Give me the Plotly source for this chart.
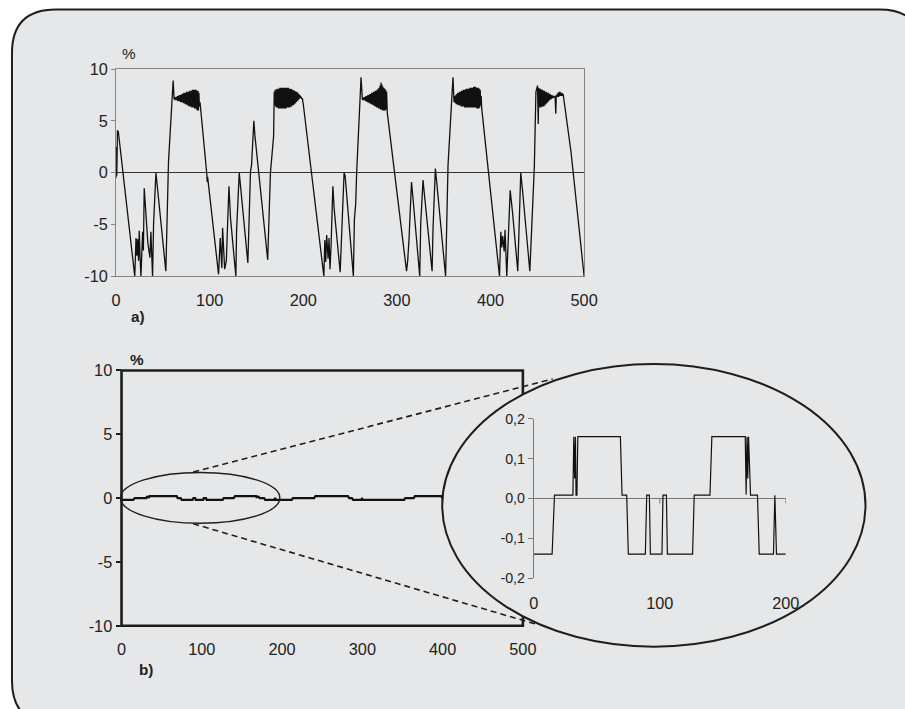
import plotly.graph_objects as go

W, H = 905, 709

# ---------------- data: chart a) relative error, % ----------------
a_points = [
    (0, -0.5), (0.3, 2.5), (0.8, -0.3), (1.5, 4.1), (2.5, 3.9), (20, -10),
    (21.3, -6.3), (22.2, -8.0), (23, -6.4), (24, -8.5), (24.8, -5.6), (25.6, -8.0),
    (26.6, -10), (28.4, -5.7), (29.2, -7.5), (30.1, -1.5), (31.5, -3.5), (32.6, -4.7),
    (34, -6.8), (36.2, -8.2), (37.2, -5.7), (39, -10), (40.1, -4.9), (42.6, 0),
    (53.2, -9.5), (56, 1), (61, 8.9),
    # plateau 1
    (62, 7.1), (62.5, 7.3), (63, 7.0), (63.5, 7.3), (64, 7.0), (64.5, 7.3), (65, 7.0),
    (65.5, 7.4), (66, 6.9), (66.5, 7.4), (67, 6.9), (67.5, 7.5), (68, 6.9), (68.5, 7.5),
    (69, 6.8), (69.5, 7.5), (70, 6.8), (70.5, 7.6), (71, 6.8), (71.5, 7.6), (72, 6.7),
    (72.5, 7.7), (73, 6.7), (73.5, 7.7), (74, 6.6), (74.5, 7.7), (75, 6.6), (75.5, 7.8),
    (76, 6.5), (76.5, 7.8), (77, 6.5), (77.5, 7.8), (78, 6.4), (78.5, 7.9), (79, 6.4),
    (79.5, 7.9), (80, 6.4), (80.5, 7.9), (81, 6.3), (81.5, 8.0), (82, 6.3), (82.5, 8.0),
    (83, 6.3), (83.5, 8.0), (84, 6.2), (84.5, 8.0), (85, 6.2), (85.5, 8.0), (86, 6.1),
    (86.5, 7.9), (87, 6.0), (87.5, 7.9), (88, 6.0), (88.5, 7.7), (89, 6.4),
    (89.7, 6.8), (97, -0.2), (97.4, -0.9), (97.8, -0.4), (109.5, -9.8), (111.3, -6.3),
    (112, -7.5), (113, -9.2), (113.8, -5.3), (115, -8), (116, -9.3), (117.8, -8.5),
    (120.6, -1.3), (122.3, -4.4), (128, -10), (128.7, -5.7), (131.6, 0), (140.8, -8.7),
    (143.6, 0.1), (144.7, 0.7), (146.5, 4.8), (147.2, 5), (148.3, 3.6), (162, -8.4),
    (164.9, 0), (167.7, 3.3), (168.3, 3.5),
    # plateau 2
    (169, 7.8), (169.5, 6.5), (170, 8.0), (170.5, 6.4), (171, 8.0), (171.5, 6.3), (172, 8.1),
    (172.5, 6.3), (173, 8.1), (173.5, 6.2), (174, 8.1), (174.5, 6.2), (175, 8.2), (175.5, 6.2),
    (176, 8.2), (176.5, 6.2), (177, 8.2), (177.5, 6.2), (178, 8.2), (178.5, 6.2), (179, 8.2),
    (179.5, 6.2), (180, 8.2), (180.5, 6.2), (181, 8.2), (181.5, 6.2), (182, 8.2), (182.5, 6.3),
    (183, 8.2), (183.5, 6.3), (184, 8.2), (184.5, 6.3), (185, 8.1), (185.5, 6.3), (186, 8.1),
    (186.5, 6.4), (187, 8.1), (187.5, 6.4), (188, 8.0), (188.5, 6.5), (189, 8.0), (189.5, 6.5),
    (190, 7.9), (190.5, 6.6), (191, 7.9), (191.5, 6.7), (192, 7.8), (192.5, 6.8), (193, 7.8),
    (193.5, 6.9), (194, 7.7), (194.5, 7.0), (195, 7.6), (195.5, 7.1), (196, 7.5), (196.5, 7.2),
    (197, 7.4), (197.5, 7.2), (198, 7.3), (198.5, 7.1), (199, 7.2),
    (200, 6.6), (222, -10), (223, -6.5), (224, -8.6), (225, -6), (226.5, -8.3),
    (227.5, -6.3), (228.5, -9.3), (229.7, -7), (231.6, -1.3), (233, -3.5), (239.4, -9.6),
    (243.6, 0), (244.7, -0.3), (253.5, -10), (254.6, -4.5), (256, -3), (257, 0),
    (261.7, 9.2),
    # plateau 3
    (263, 7.2), (263.5, 7.0), (264, 7.2), (264.5, 7.0), (265, 7.3), (265.5, 7.0), (266, 7.3),
    (266.5, 6.9), (267, 7.4), (267.5, 6.9), (268, 7.4), (268.5, 6.8), (269, 7.5), (269.5, 6.8),
    (270, 7.5), (270.5, 6.7), (271, 7.6), (271.5, 6.7), (272, 7.6), (272.5, 6.6), (273, 7.7),
    (273.5, 6.6), (274, 7.7), (274.5, 6.5), (275, 7.8), (275.5, 6.5), (276, 7.8), (276.5, 6.4),
    (277, 7.9), (277.5, 6.4), (278, 7.9), (278.5, 6.3), (279, 8.0), (279.5, 6.3), (280, 8.1),
    (280.5, 6.2), (281, 8.2), (281.5, 6.2), (282, 8.4), (282.5, 6.1), (283, 8.7), (283.5, 6.1),
    (284, 8.5), (284.5, 6.0), (285, 8.3), (285.5, 6.0), (286, 8.2), (286.5, 6.0), (287, 8.1),
    (287.5, 6.0), (288, 8.0), (288.5, 6.1), (289, 7.8),
    (289.7, 5.8), (310.3, -9.5), (311.5, -8.5), (313, -6.3), (315.6, -0.9), (317.5, -2.8),
    (324.4, -10), (325.4, -5), (327.9, -0.7), (329.5, -2.2), (337.6, -9.5), (338.6, -5.3),
    (341.1, 0.4), (342.5, -0.9), (352, -10), (354.6, 0.7), (359.9, 9.2), (361, 6.8),
    # plateau 4
    (362, 7.4), (362.5, 6.7), (363, 7.5), (363.5, 6.6), (364, 7.6), (364.5, 6.6), (365, 7.7),
    (365.5, 6.5), (366, 7.7), (366.5, 6.5), (367, 7.8), (367.5, 6.5), (368, 7.8), (368.5, 6.4),
    (369, 7.9), (369.5, 6.4), (370, 7.9), (370.5, 6.4), (371, 8.0), (371.5, 6.4), (372, 8.0),
    (372.5, 6.3), (373, 8.0), (373.5, 6.3), (374, 8.1), (374.5, 6.3), (375, 8.1), (375.5, 6.3),
    (376, 8.1), (376.5, 6.3), (377, 8.1), (377.5, 6.3), (378, 8.2), (378.5, 6.3), (379, 8.2),
    (379.5, 6.3), (380, 8.2), (380.5, 6.3), (381, 8.2), (381.5, 6.3), (382, 8.3), (382.5, 6.3),
    (383, 8.3), (383.5, 6.3), (384, 8.3), (384.5, 6.3), (385, 8.2), (385.5, 6.2), (386, 8.2),
    (386.5, 6.2), (387, 8.2), (387.5, 6.2), (388, 8.1), (388.5, 6.3), (389, 8.0), (389.5, 6.5),
    (390, 7.4),
    (390.6, 6.2), (409.6, -10), (411, -5.7), (412, -7.2), (413, -6.1), (414.6, -7.6),
    (415.5, -5.5), (417.4, -10), (421, -1.7), (423.5, -3.8), (429.1, -9.5), (430.5, -4.8),
    (432.3, 0), (434, -1.5), (442, -9.5), (446.8, 0.6), (448.5, 7.8), (450.2, 8.4),
    (451, 4.7), (451.5, 8.2),
    # plateau 5
    (452, 6.4), (452.5, 8.1), (453, 6.3), (453.5, 8.1), (454, 6.3), (454.5, 8.0), (455, 6.4),
    (455.5, 8.0), (456, 6.4), (456.5, 7.9), (457, 6.4), (457.5, 7.9), (458, 6.5), (458.5, 7.8),
    (459, 6.6), (459.5, 7.8), (460, 6.7), (460.5, 7.7), (461, 6.8), (461.5, 7.7), (462, 6.9),
    (462.5, 7.6), (463, 7.0), (463.5, 7.6), (464, 7.1), (464.5, 7.5), (465, 7.1), (465.5, 7.5),
    (466, 7.2), (466.5, 7.4), (467, 7.2), (467.5, 7.4), (468, 7.3), (468.5, 7.4), (469, 7.3),
    (469.7, 5.7), (470.3, 7.5), (470.8, 7.3), (471.3, 7.6), (471.8, 7.3), (472.3, 7.7),
    (472.8, 7.3), (473.3, 7.8), (473.8, 7.4), (474.3, 7.8), (474.8, 7.4), (475.3, 7.7),
    (475.8, 7.4), (476.3, 7.7), (476.8, 7.4), (477.3, 7.6), (477.7, 7.5),
    (486, 2), (500, -10),
]
a_time = [p[0] for p in a_points]
a_value = [p[1] for p in a_points]

# ---------------- data: chart b) relative error, % (first 200 s, shown zoomed) ----------------
b_time = [0, 14.5, 16.4, 31, 31.7, 32.4, 33, 33.5, 34.2, 34.9, 68.7, 70, 73.7, 75, 88.5,
          89.6, 91.7, 92.5, 101.7, 102.5, 105.2, 106, 126, 127.3, 139.8, 141.3, 167.8,
          168.5, 169.2, 169.8, 170.4, 171, 172, 177.5, 178.9, 190.2, 191.3, 192.6, 200]
b_value = [-0.14, -0.14, 0.008, 0.008, 0.155, 0.05, 0.155, 0.008, 0.008, 0.155, 0.155,
           0.008, 0.008, -0.14, -0.14, 0.008, 0.008, -0.14, -0.14, 0.008, 0.008, -0.14,
           -0.14, 0.008, 0.008, 0.155, 0.155, 0.01, 0.155, 0.05, 0.155, 0.1, 0.008, 0.008,
           -0.14, -0.14, 0.008, -0.14, -0.14]
# continuation 200..400 s (main panel b only)
b_time_cont = [200, 212, 213.5, 240, 241.5, 282, 283.5, 287, 288.5, 299, 299.5, 300.5,
               352, 353.5, 364, 365.5, 398, 399, 400]
b_value_cont = [-0.14, -0.14, 0.008, 0.008, 0.155, 0.155, 0.008, 0.008, -0.14, -0.14,
                0.008, -0.14, -0.14, 0.008, 0.008, 0.155, 0.155, 0.008, 0.008]

x_ticks = [0, 100, 200, 300, 400, 500]
y_ticks = [-10, -5, 0, 5, 10]
y_ticklabels = ["-10", "-5", "0", "5", "10"]
zoom_x_ticks = [0, 100, 200]
zoom_y_ticks = [-0.2, -0.1, 0.0, 0.1, 0.2]
zoom_y_ticklabels = ["-0,2", "-0,1", "0,0", "0,1", "0,2"]

# ---------------- layout helpers ----------------
# target picture pixel -> paper fraction (the page capture is mapped slightly
# smaller than the window, so positions are pre-compensated)
SX, OX, SY, OY = 0.983, 3.0, 0.979, 6.4

def PX(x):
    return ((x - OX) / SX) / W

def PY(y):
    return 1 - ((y - OY) / SY) / H

K = 1 / 0.981  # font / stroke compensation

BG = "#e6e7e8"
INK = "#1e1e1e"
FONT = "Liberation Sans, Arial, Helvetica, sans-serif"

fig = go.Figure()

# chart a)
fig.add_trace(go.Scatter(x=a_time, y=a_value, mode="lines", xaxis="x", yaxis="y",
                         line=dict(color="#111111", width=1.3), showlegend=False,
                         hoverinfo="skip"))
# chart b) main (trace along 0)
fig.add_trace(go.Scatter(x=b_time + b_time_cont[1:], y=b_value + b_value_cont[1:],
                         mode="lines", xaxis="x2", yaxis="y2",
                         line=dict(color="#111111", width=2.2), showlegend=False,
                         hoverinfo="skip"))
# zoomed inset of b)
fig.add_trace(go.Scatter(x=b_time, y=b_value, mode="lines", xaxis="x3", yaxis="y3",
                         line=dict(color="#111111", width=1.2), showlegend=False,
                         hoverinfo="skip"))

tickfont = dict(family=FONT, size=16 * K, color="#222222")

# ---------------- shapes ----------------
shapes = []
# rounded panel
x0, y0, x1, y1, r = 10, 7, 925, 725, 44
path = (f"M {PX(x0)} {PY(y0 + r)} Q {PX(x0)} {PY(y0)} {PX(x0 + r)} {PY(y0)} "
        f"L {PX(x1 - r)} {PY(y0)} Q {PX(x1)} {PY(y0)} {PX(x1)} {PY(y0 + r)} "
        f"L {PX(x1)} {PY(y1 - r)} Q {PX(x1)} {PY(y1)} {PX(x1 - r)} {PY(y1)} "
        f"L {PX(x0 + r)} {PY(y1)} Q {PX(x0)} {PY(y1)} {PX(x0)} {PY(y1 - r)} Z")
shapes.append(dict(type="path", path=path, xref="paper", yref="paper", layer="below",
                   fillcolor=BG, line=dict(color=INK, width=2)))
# frame of chart b)
bx0, by0, bx1, by1 = 120, 369.5, 523, 626
shapes.append(dict(type="rect", xref="paper", yref="paper", layer="below",
                   x0=PX(bx0), x1=PX(bx1), y0=PY(by1), y1=PY(by0),
                   line=dict(color=INK, width=2.6), fillcolor="rgba(0,0,0,0)"))
# big magnifier ellipse (covers right part of frame b)
shapes.append(dict(type="circle", xref="paper", yref="paper", layer="below",
                   x0=PX(442), x1=PX(867), y0=PY(647), y1=PY(363),
                   fillcolor=BG, line=dict(color=INK, width=2)))
# small ellipse around the zoomed area
shapes.append(dict(type="circle", xref="paper", yref="paper", layer="above",
                   x0=PX(119), x1=PX(279), y0=PY(523), y1=PY(472),
                   line=dict(color=INK, width=1.4)))
# dashed connector lines
shapes.append(dict(type="line", xref="paper", yref="paper", layer="above",
                   x0=PX(192), y0=PY(471.5), x1=PX(553), y1=PY(378),
                   line=dict(color=INK, width=1.6, dash="6px,4px")))
shapes.append(dict(type="line", xref="paper", yref="paper", layer="above",
                   x0=PX(192), y0=PY(523.5), x1=PX(535), y1=PY(624),
                   line=dict(color=INK, width=1.6, dash="6px,4px")))
# x tick marks of the inset on its zero line
for t in zoom_x_ticks[1:]:
    shapes.append(dict(type="line", xref="x3", yref="y3", layer="below",
                       x0=t, x1=t, y0=0, y1=-0.0125,
                       line=dict(color="#777777", width=1)))

def label(text, x, y):
    return dict(text=text, x=PX(x), y=PY(y), xref="paper", yref="paper",
                xanchor="center", yanchor="middle", showarrow=False,
                font=dict(family=FONT, size=15 * K, color="#222222"))

annotations = [
    label("%", 128, 51),
    label("<b>a)</b>", 137, 315),
    label("<b>%</b>", 136, 358),
    label("<b>b)</b>", 145, 670),
]

fig.update_layout(
    width=W, height=H, margin=dict(l=0, r=0, t=0, b=0, pad=0),
    paper_bgcolor="white", plot_bgcolor="rgba(0,0,0,0)",
    showlegend=False, shapes=shapes, annotations=annotations,
    xaxis=dict(domain=[PX(114.5), PX(584.5)], range=[0, 500], anchor="y",
               tickvals=x_ticks, ticktext=[str(v) for v in x_ticks],
               ticks="outside", ticklen=9, tickcolor="rgba(0,0,0,0)",
               showline=True, mirror=True, linecolor="#858585", linewidth=1,
               showgrid=False, zeroline=False, tickfont=tickfont, fixedrange=True),
    yaxis=dict(domain=[PY(275), PY(66.7)], range=[-10, 10], anchor="x",
               tickvals=y_ticks, ticktext=y_ticklabels,
               ticks="outside", ticklen=4, tickcolor="#858585",
               showline=True, mirror=True, linecolor="#858585", linewidth=1,
               showgrid=False, zeroline=True, zerolinecolor="#333333", zerolinewidth=1,
               tickfont=tickfont, fixedrange=True),
    xaxis2=dict(domain=[PX(bx0), PX(bx1)], range=[0, 500], anchor="y2",
                tickvals=x_ticks, ticktext=[str(v) for v in x_ticks],
                ticks="outside", ticklen=9, tickcolor="rgba(0,0,0,0)",
                showline=False, showgrid=False, zeroline=False, tickfont=tickfont,
                fixedrange=True),
    yaxis2=dict(domain=[PY(by1), PY(by0)], range=[-10, 10], anchor="x2",
                tickvals=y_ticks, ticktext=y_ticklabels,
                ticks="outside", ticklen=5, tickwidth=1.5, tickcolor=INK,
                showline=False, showgrid=False, zeroline=False, tickfont=tickfont,
                fixedrange=True),
    xaxis3=dict(domain=[PX(534), PX(787)], range=[0, 200], anchor="y3",
                tickvals=zoom_x_ticks, ticktext=[str(v) for v in zoom_x_ticks],
                ticks="outside", ticklen=10, tickcolor="rgba(0,0,0,0)",
                showline=False, showgrid=False, zeroline=False, tickfont=tickfont,
                fixedrange=True),
    yaxis3=dict(domain=[PY(578), PY(418)], range=[-0.2, 0.2], anchor="x3",
                tickvals=zoom_y_ticks, ticktext=zoom_y_ticklabels,
                ticks="outside", ticklen=5, tickcolor="#777777",
                showline=True, linecolor="#777777", linewidth=1,
                showgrid=False, zeroline=True, zerolinecolor="#777777", zerolinewidth=1,
                tickfont=dict(family=FONT, size=14 * K, color="#222222"), fixedrange=True),
)

fig.write_html("out.html", config={"displayModeBar": False},
               post_script="document.body.style.margin='0';"
                           "document.body.style.overflow='hidden';")
